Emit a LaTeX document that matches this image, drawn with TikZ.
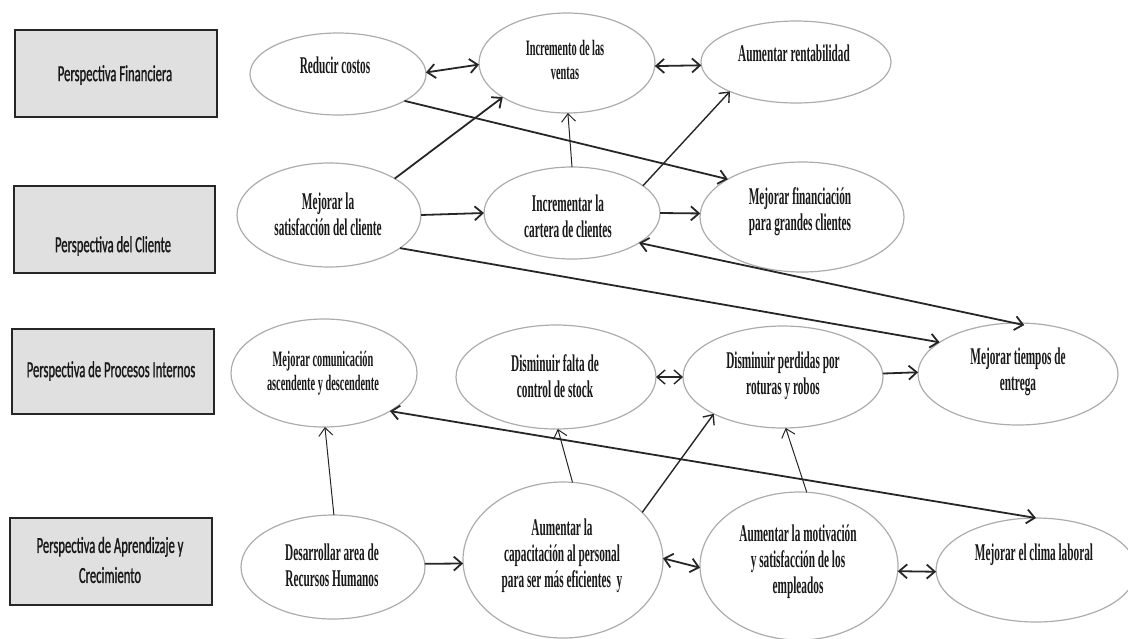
\documentclass[tikz,border=0pt]{standalone}
\usepackage{fontspec}
\usetikzlibrary{shapes.geometric,arrows.meta}
\newfontfamily\etfamily[FakeStretch=0.47]{Liberation Serif Bold}
\newfontfamily\btfamily[FakeStretch=0.55,FakeBold=1]{Carlito}
\newcommand\etfont{\etfamily\fontsize{12}{13}\selectfont}
\newcommand\etsmallfont{\etfamily\fontsize{11}{11.8}\selectfont}
\newcommand\btfont{\btfamily\fontsize{11.5}{15}\selectfont}
\tikzset{
  ell/.style={ellipse, draw=gray!65, line width=0.6pt, inner sep=0pt, outer sep=0pt},
  box/.style={rectangle, draw=black!85, line width=0.9pt, fill=black!12, inner sep=0pt, outer sep=0pt},
  etxt/.style={align=center, font=\etfont, inner sep=0pt, text=black!90},
  etsmall/.style={align=center, font=\etsmallfont, inner sep=0pt, text=black!90},
  btxt/.style={align=center, font=\btfont, inner sep=0pt, text=black!90},
  tip/.tip={Straight Barb[length=4pt,width=7pt]},
  arr/.style={-tip, line width=0.9pt, draw=black!85},
  darr/.style={tip-tip, line width=0.9pt, draw=black!85},
  arrthin/.style={-tip, line width=0.5pt, draw=black!85},
  arrmed/.style={-tip, line width=0.7pt, draw=black!85},
}
\begin{document}
\begin{tikzpicture}[x=0.5pt,y=-0.5pt]
\useasboundingbox (0,0) rectangle (1128,638);
% perspective boxes
\node[box, minimum width=101pt, minimum height=43.5pt] (b1) at (116,73.5) {};
\node[box, minimum width=100.5pt, minimum height=43.5pt] (b2) at (114.5,229.5) {};
\node[box, minimum width=101pt, minimum height=42.5pt] (b3) at (113,371.5) {};
\node[box, minimum width=101pt, minimum height=43.5pt] (b4) at (111,561.5) {};
\node[btxt] (t1) at (115,75) {Perspectiva Financiera};
\node[btxt] (t2) at (113,246) {Perspectiva del Cliente};
\node[btxt] (t3) at (111,371) {Perspectiva de Procesos Internos};
\node[btxt] (t4) at (110,560) {Perspectiva de Aprendizaje y\\Crecimiento};
% ellipses
\node[ell, minimum width=88pt, minimum height=41pt] (R) at (338,74) {};
\node[ell, minimum width=88pt, minimum height=50pt] (IV) at (567,63) {};
\node[ell, minimum width=95pt, minimum height=41pt] (AR) at (796,62) {};
\node[ell, minimum width=92pt, minimum height=52pt] (MS) at (329,215) {};
\node[ell, minimum width=88pt, minimum height=46pt] (IC) at (572,213) {};
\node[ell, minimum width=102pt, minimum height=55pt] (MF) at (802,217) {};
\node[ell, minimum width=93pt, minimum height=54pt] (MC) at (324,373) {};
\node[ell, minimum width=100pt, minimum height=52pt] (DF) at (556,377) {};
\node[ell, minimum width=100pt, minimum height=51pt] (DP) at (783,377) {};
\node[ell, minimum width=100pt, minimum height=51pt] (MT) at (1018,374) {};
\node[ell, minimum width=92pt, minimum height=52pt] (DR) at (333,567) {};
\node[ell, minimum width=100pt, minimum height=78pt] (AC) at (563,560) {};
\node[ell, minimum width=99pt, minimum height=74pt] (AM) at (799,566) {};
\node[ell, minimum width=100pt, minimum height=52pt] (CL) at (1036,570) {};
% ellipse texts
\node[etxt] (tR) at (335,65) {Reducir costos};
\node[etsmall] (tIV) at (565,60) {Incremento de las\\ventas};
\node[etxt] (tAR) at (794,53) {Aumentar rentabilidad};
\node[etxt] (tMS) at (328,214) {Mejorar la\\satisfacción del cliente};
\node[etxt] (tIC) at (568,216) {Incrementar la\\cartera de clientes};
\node[etxt] (tMF) at (800,212) {Mejorar financiación\\para grandes clientes};
\node[etsmall] (tMC) at (323,373) {Mejorar comunicación\\ascendente y descendente};
\node[etxt] (tDF) at (555,376) {Disminuir falta de\\control de stock};
\node[etxt] (tDP) at (783,376) {Disminuir perdidas por\\roturas y robos};
\node[etxt] (tMT) at (1018,372) {Mejorar tiempos de\\entrega};
\node[etxt] (tDR) at (332,565) {Desarrollar area de\\Recursos Humanos};
\node[etxt, text depth=0pt] (tAC) at (562,553) {Aumentar la\\capacitación al personal\\para ser más eficientes~ y};
\node[etxt] (tAM) at (798,562) {Aumentar la motivación\\y satisfacción de los\\empleados};
\node[etxt] (tCL) at (1034,555) {Mejorar el clima laboral};
% connectors
\draw[darr] (R.1) -- (IV.181);
\draw[darr] (IV.-2) -- (AR.182);
\draw[arr] (R.-22) -- (MF.153);
\draw[arr] (MS.29) -- (IV.-152);
\draw[arr] (MS.0) -- (IC.180);
\draw[arr] (MS.-25) -- (MT.158);
\draw[arrthin] (IC.90) -- (IV.-89);
\draw[arrmed] (IC.21) -- (AR.-156);
\draw[arr] (IC.0) -- (MF.178);
\draw[darr, shorten <=-5pt] (MT.94) -- (IC.-24);
\draw[darr, line width=0.7pt] (DF.0) -- (DP.180);
\draw[arr] (DP.2) -- (MT.179);
\draw[arrthin] (DR.89) -- (MC.-89);
\draw[arr] (DR.2) -- (AC.182);
\draw[arrthin] (AC.83) -- (DF.-88);
\draw[arrmed] (AC.31) -- (DP.-152);
\draw[darr] (AC.1) -- (AM.181);
\draw[arrthin] (AM.84) -- (DP.-87);
\draw[darr] (AM.-3) -- (CL.181);
\draw[darr] (MC.-30) -- (CL.90);
\end{tikzpicture}
\end{document}
